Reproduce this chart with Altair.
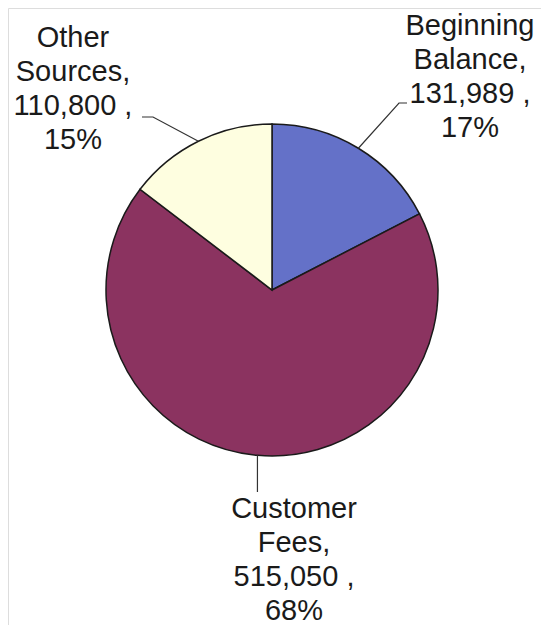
import altair as alt
import pandas as pd
import numpy as np

# ---- data ----
categories = ["Beginning Balance", "Customer Fees", "Other Sources"]
values = [131989, 515050, 110800]
value_labels = ["131,989 ,", "515,050 ,", "110,800 ,"]
percent_labels = ["17%", "68%", "15%"]
name_lines = [["Beginning", "Balance,"], ["Customer", "Fees,"], ["Other", "Sources,"]]
colors = ["#6471c8", "#8b3360", "#fefee0"]

# ---- layout (pixels inside the chart) ----
W, H = 533, 617
CX, CY, R = 264, 282, 166
label_anchor = [(462, 27), (286, 510), (65, 39)]           # first-line baseline, centre x
leader_elbows = [[(391, 95), (399, 95)], [None], [(145, 109), (134, 109)]]
leader_end_y = 484

xs = alt.Scale(domain=[0, W])
ys = alt.Scale(domain=[H, 0])

pie_df = pd.DataFrame({"category": categories, "value": values, "order": list(range(len(values)))})

pie = alt.Chart(pie_df).mark_arc(radius=R, stroke="#1a1a1a", strokeWidth=1.5).encode(
    theta=alt.Theta("value:Q", stack=True),
    color=alt.Color("category:N", scale=alt.Scale(domain=categories, range=colors), legend=None),
    order=alt.Order("order:Q"),
    x=alt.value(CX),
    y=alt.value(CY),
)

# leader lines start at the slice's mid-angle on the rim
vals = np.array(values, dtype=float)
cum = np.cumsum(vals)
mid = 2 * np.pi * (cum - vals / 2) / vals.sum()
rows = []
for i, cat in enumerate(categories):
    ex, ey = CX + R * np.sin(mid[i]), CY - R * np.cos(mid[i])
    pts = [(ex, ey)]
    for p in leader_elbows[i]:
        if p is None:
            pts.append((ex, leader_end_y))
        else:
            pts.append(p)
    for k, (px, py) in enumerate(pts):
        rows.append({"cat": cat, "k": k, "x": px, "y": py})
lead_df = pd.DataFrame(rows)

leaders = alt.Chart(lead_df).mark_line(color="#333333", strokeWidth=1.2).encode(
    x=alt.X("x:Q", scale=xs, axis=None),
    y=alt.Y("y:Q", scale=ys, axis=None),
    detail="cat:N",
    order="k:Q",
)

lab_df = pd.DataFrame({
    "cat": categories,
    "x": [a[0] for a in label_anchor],
    "y": [a[1] for a in label_anchor],
    "text": [name_lines[i] + [value_labels[i], percent_labels[i]] for i in range(len(categories))],
})

labels = alt.Chart(lab_df).mark_text(
    font="Liberation Sans", fontSize=29, lineHeight=34, align="center",
    baseline="alphabetic", color="#1a1a1a",
).encode(
    x=alt.X("x:Q", scale=xs, axis=None),
    y=alt.Y("y:Q", scale=ys, axis=None),
    text="text",
)

chart = alt.layer(pie, leaders, labels).properties(
    width=W, height=H, padding=0, autosize=alt.AutoSizeParams(type="none"),
).configure_view(stroke=None).configure_axis(domain=False, grid=False, ticks=False, labels=False).configure(background="white")

chart.save("out.html", embed_options={"renderer": "svg", "actions": False})
